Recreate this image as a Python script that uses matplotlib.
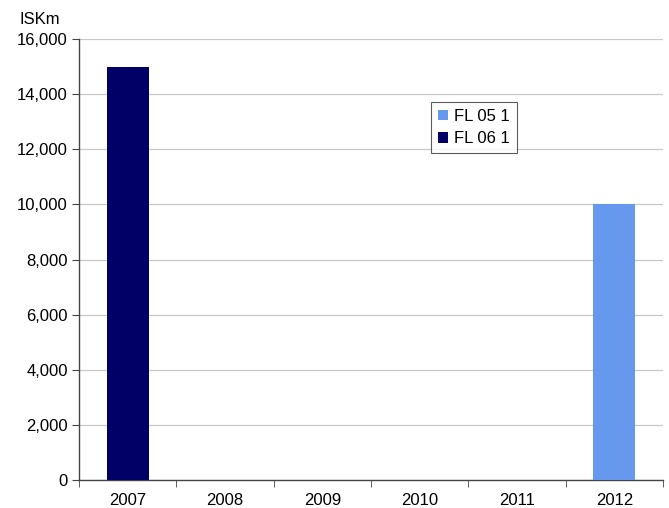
import matplotlib
matplotlib.use("Agg")
import matplotlib.pyplot as plt
import numpy as np

plt.rcParams['font.family'] = ['Liberation Sans', 'DejaVu Sans']

years = ['2007', '2008', '2009', '2010', '2011', '2012']
fl_05_1 = [0, 0, 0, 0, 0, 10000]
fl_06_1 = [15000, 0, 0, 0, 0, 0]
yticks = [0, 2000, 4000, 6000, 8000, 10000, 12000, 14000, 16000]

fig = plt.figure(figsize=(6.69, 5.08), dpi=100)
ax = fig.add_axes([0.118, 0.055, 0.873, 0.868])

x = np.arange(len(years))
w = 0.43
ax.bar(x, fl_05_1, w, color='#6699ee', label='FL 05 1', zorder=3)
ax.bar(x, fl_06_1, w, bottom=fl_05_1, color='#000066', label='FL 06 1', zorder=3)

ax.set_xlim(-0.5, len(years) - 0.5)
ax.set_ylim(0, 16000)
ax.set_yticks(yticks)
ax.set_yticklabels([f'{v:,}' for v in yticks], fontsize=12)
ax.set_xticks(x)
ax.set_xticklabels(years, fontsize=12)
ax.set_xticks(np.arange(len(years) + 1) - 0.5, minor=True)
ax.tick_params(axis='x', which='major', length=0, pad=9)
ax.tick_params(axis='x', which='minor', length=5, direction='out', color='#444444')
ax.tick_params(axis='y', length=5, direction='out', color='#444444', pad=3)

ax.yaxis.grid(True, color='#c8c8c8', linewidth=0.9, zorder=0)
ax.spines['top'].set_visible(False)
ax.spines['right'].set_visible(False)
for s in ('left', 'bottom'):
    ax.spines[s].set_color('#444444')
    ax.spines[s].set_linewidth(1.0)

fig.text(0.060, 0.962, 'ISKm', fontsize=12, ha='center', va='center')

leg = ax.legend(loc='upper left', bbox_to_anchor=(0.603, 0.857), fontsize=12,
                frameon=True, fancybox=False, edgecolor='#333333',
                handlelength=0.6, handleheight=0.6, handletextpad=0.4,
                borderpad=0.4, labelspacing=0.45, borderaxespad=0)
leg.get_frame().set_linewidth(0.8)

fig.savefig('out.png', dpi=100)
